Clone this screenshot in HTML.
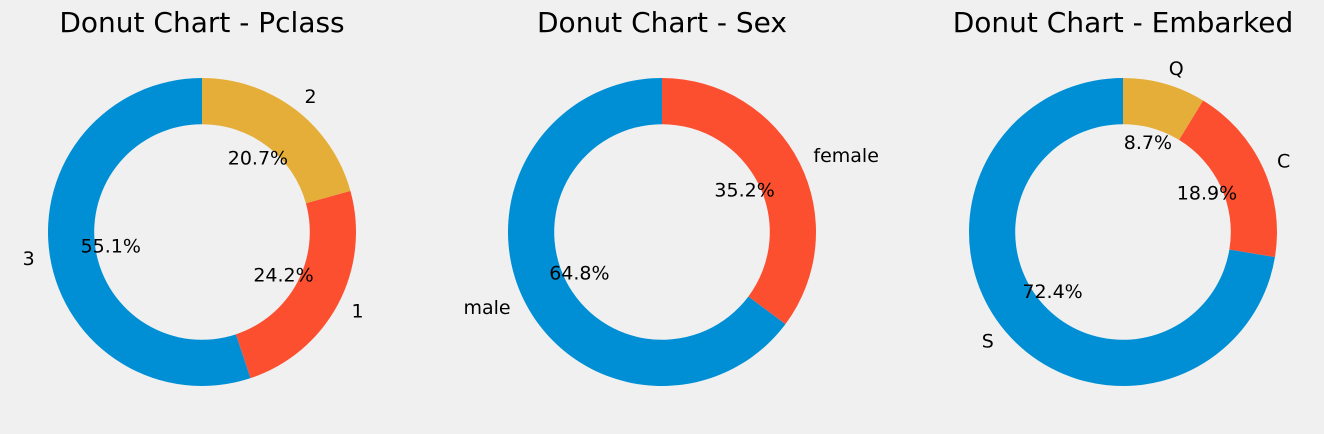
<!DOCTYPE html>
<html><head><meta charset="utf-8">
<style>
body{margin:0;background:#f0f0f0;}
svg{display:block;font-family:"DejaVu Sans","Liberation Sans",sans-serif;}
</style></head>
<body>
<svg id="chart" width="1324" height="434" viewBox="0 0 1324 434"></svg>
<script>
const titles = ["Donut Chart - Pclass", "Donut Chart - Sex", "Donut Chart - Embarked"];
const pclassLabels = ["3", "1", "2"];
const pclassValues = [55.1, 24.2, 20.7];
const sexLabels = ["male", "female"];
const sexValues = [64.8, 35.2];
const embarkedLabels = ["S", "C", "Q"];
const embarkedValues = [72.4, 18.9, 8.7];
const colors = ["#008fd5", "#fc4f30", "#e5ae38"];
const NS = "http://www.w3.org/2000/svg";
const svg = document.getElementById("chart");
const charts = [[pclassLabels, pclassValues], [sexLabels, sexValues], [embarkedLabels, embarkedValues]];
const centersX = [202, 662, 1123];
const cy = 232, R = 154, r = 107.8;
function pt(cx, rad, deg) { const a = deg * Math.PI / 180; return [cx + rad * Math.cos(a), cy - rad * Math.sin(a)]; }
charts.forEach((c, ci) => {
  const [labels, values] = c;
  const cx = centersX[ci];
  const total = values.reduce((a, b) => a + b, 0);
  const g = document.createElementNS(NS, "g");
  
  
  svg.appendChild(g);
  const t = document.createElementNS(NS, "text");
  
  
  t.setAttribute("x", cx); t.setAttribute("y", 32); t.setAttribute("text-anchor", "middle");
  t.setAttribute("font-size", "28"); t.setAttribute("fill", "#000");
  t.textContent = titles[ci]; g.appendChild(t);
  let start = 90;
  values.forEach((v, i) => {
    const sweep = v / total * 360, end = start + sweep;
    const [x1, y1] = pt(cx, R, start), [x2, y2] = pt(cx, R, end);
    const [x3, y3] = pt(cx, r, end), [x4, y4] = pt(cx, r, start);
    const large = sweep > 180 ? 1 : 0;
    const p = document.createElementNS(NS, "path");
    
    
    p.setAttribute("d", `M${x1},${y1} A${R},${R} 0 ${large} 0 ${x2},${y2} L${x3},${y3} A${r},${r} 0 ${large} 1 ${x4},${y4} Z`);
    p.setAttribute("fill", colors[i]);
    g.appendChild(p);
    const mid = start + sweep / 2;
    const [lx, ly] = pt(cx, R * 1.1, mid);
    const lt = document.createElementNS(NS, "text");
    
    
    lt.setAttribute("x", lx); lt.setAttribute("y", ly + 6);
    lt.setAttribute("text-anchor", Math.cos(mid * Math.PI / 180) < 0 ? "end" : "start");
    lt.setAttribute("font-size", "19"); lt.textContent = labels[i]; g.appendChild(lt);
    const [px, py] = pt(cx, R * 0.6, mid);
    const pt2 = document.createElementNS(NS, "text");
    
    
    pt2.setAttribute("x", px); pt2.setAttribute("y", py + 6);
    pt2.setAttribute("text-anchor", "middle");
    pt2.setAttribute("font-size", "19"); pt2.textContent = (v / total * 100).toFixed(1) + "%"; g.appendChild(pt2);
    start = end;
  });
});
</script>
</body></html>
